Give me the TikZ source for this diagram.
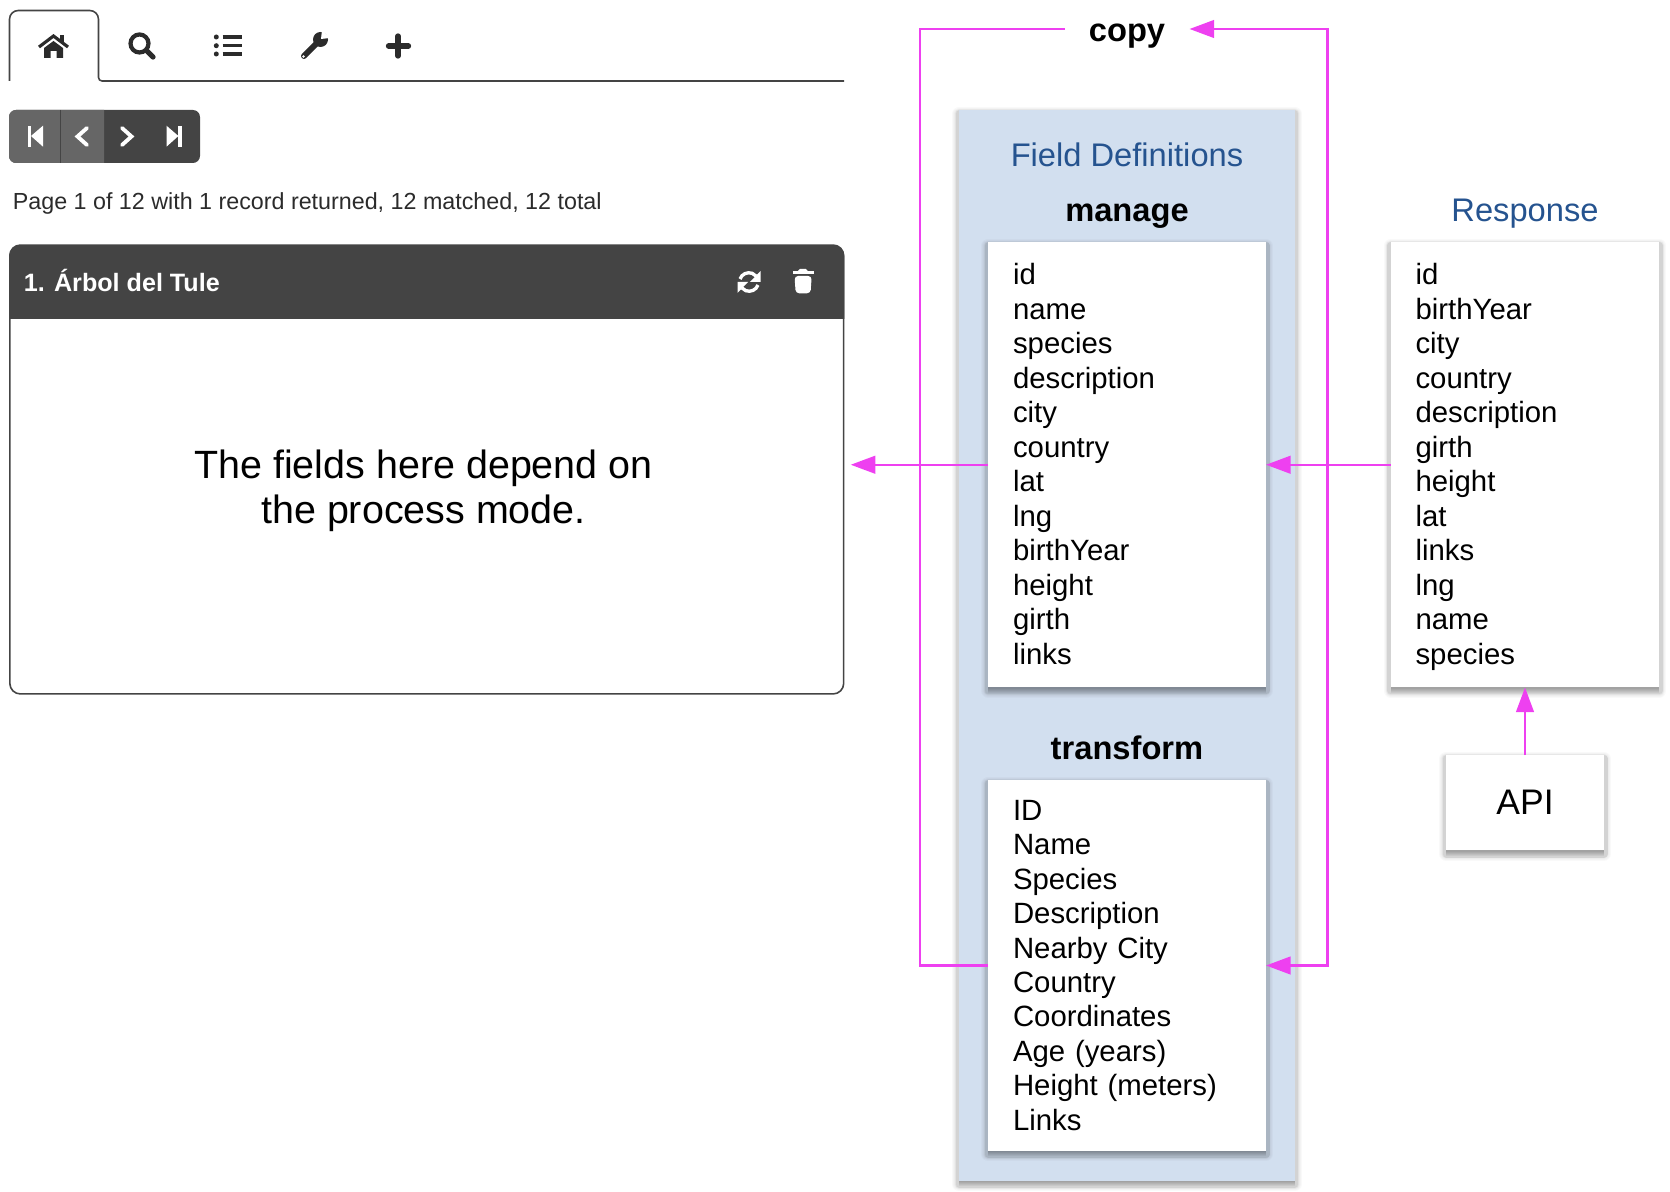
\documentclass[tikz,border=0pt]{standalone}
\usepackage{fontspec}
\setmainfont{Liberation Sans}
\usetikzlibrary{arrows.meta}
\usetikzlibrary{shadows}
\definecolor{pink}{HTML}{EE40F0}
\definecolor{panelblue}{HTML}{D2DFEF}
\definecolor{titleblue}{HTML}{25538F}
\definecolor{darkbar}{HTML}{444444}
\definecolor{lightbar}{HTML}{666666}
\definecolor{icongray}{HTML}{2B2B2B}
\tikzset{>={Triangle[length=14pt,width=10pt]}}
\tikzset{
  ringshadow/.style={general shadow={shadow yshift=-2pt,fill=none,draw=black,opacity=.025,line join=round,line width=#1}},
  dropshadow/.style={general shadow={shadow yshift=#1,fill=black,draw=none,opacity=.05}},
  softshadow/.style={
    ringshadow/.list={7.5pt,6.5pt,5.5pt,5pt,4.5pt,4pt,4pt,4pt},
    dropshadow/.list={-3pt,-2.4pt,-1.8pt,-1.2pt,-.6pt}},
  listbox/.style={fill=white,softshadow,outer sep=0,inner ysep=0,inner xsep=.5cm,align=left,anchor=center,
    font=\fontsize{16.7}{19.62}\selectfont,execute at begin node=\rule{0pt}{17pt},execute at end node=\strut},
  heading/.style={inner sep=0,outer sep=0,font=\fontsize{18.6}{22}\selectfont},
  flow/.style={draw=pink,line width=1.4pt},
  icon/.style={icongray,line width=2.4pt},
  navicon/.style={white,line width=2.2pt}
}
\begin{document}
\begin{tikzpicture}[x=.02cm,y=.02cm]
  \useasboundingbox (0,0) rectangle (1670,-1192);
  % tabs
  \draw[darkbar,line width=.9pt] (9.5,-81) [rounded corners=5] -- (9.5,-10.5) -- (98.5,-10.5) [rounded corners=2] -- (98.5,-81) -- (844,-81);
  % home
  \draw[icon,line width=1.8pt] (39,-47) -- (53.5,-36) -- (68,-47);
  \fill[icongray] (60,-35) rectangle (64,-42);
  \fill[icongray] (44,-48) -- (53.5,-41) -- (63,-48) -- (63,-58) -- (56.5,-58) -- (56.5,-51) -- (50.5,-51) -- (50.5,-58) -- (44,-58) -- cycle;
  % search
  \draw[icon] (139.5,-43.5) circle (9);
  \draw[icon,line width=3pt,line cap=round] (147,-51) -- (153,-57);
  % list
  \foreach \y in {37,45.7,54} {
    \fill[icongray] (216.3,-\y) circle (2.5);
    \draw[icon,line width=2pt] (222.7,-\y) -- (241.7,-\y);
  }
  % wrench
  \draw[icon,line width=3.4pt,line cap=round] (304,-56) -- (318,-42);
  \fill[icongray] (320.5,-39.5) circle (7.5);
  \fill[white] (321,-39) -- (322,-30) -- (330,-38) -- cycle;
  \fill[white] (303.5,-56.5) circle (1.3);
  % plus
  \draw[icon,line width=3pt,line cap=round] (388.5,-46) -- (408.5,-46);
  \draw[icon,line width=3pt,line cap=round] (398,-36) -- (398,-56);
  % nav buttons
  \fill[darkbar,rounded corners=4] (9,-110) rectangle (200,-163);
  \fill[lightbar,rounded corners=4] (40,-110) -- (9,-110) -- (9,-163) -- (40,-163) [sharp corners] -- (104,-163) -- (104,-110) -- cycle;
  \draw[darkbar,line width=.6pt] (60.5,-110) -- (60.5,-163);
  \fill[white] (27.5,-125.7) rectangle (31,-146.7);
  \fill[white] (43,-125.7) -- (31,-136) -- (43,-146.7) -- cycle;
  \draw[navicon,line cap=round] (87,-128) -- (77.5,-136.5) -- (87,-145);
  \draw[navicon,line cap=round] (122,-128) -- (131.5,-136.5) -- (122,-145);
  \fill[white] (166.5,-125.7) -- (178.4,-136) -- (166.5,-146.7) -- cycle;
  \fill[white] (178.2,-125.7) rectangle (181.7,-146.7);
  \node[anchor=west,inner sep=0,text=icongray,font=\fontsize{13.25}{16}\selectfont] (pageinfo) at (12.5,-203) {Page 1 of 12 with 1 record returned, 12 matched, 12 total};
  % record panel
  \node[draw=darkbar,line width=.9pt,fill=white,rounded corners=6,minimum width=16.68cm,minimum height=8.98cm,outer sep=0] (panel) at (426.75,-469.5) {};
  \fill[darkbar,rounded corners=6] (9.2,-280) -- (9.2,-245.5) -- (844.3,-245.5) -- (844.3,-280) [sharp corners] -- (844.3,-319) -- (9.2,-319) -- cycle;
  \node[anchor=west,inner sep=0,text=white,font=\fontsize{14.3}{17}\selectfont\bfseries] (recordtitle) at (23.5,-280) {1. Árbol del Tule};
  \node[align=center,inner sep=0,font=\fontsize{22.45}{25.8}\selectfont] (panelnote) at (423.5,-490.5) {The fields here depend on\\the process mode.};
  % refresh
  \draw[white,line width=1.9pt] (740,-279) arc (160:40:9.5);
  \draw[white,line width=1.9pt] (758,-285) arc (-20:-140:9.5);
  \fill[white] (760.5,-271) -- (760.5,-282) -- (750,-282) -- cycle;
  \fill[white] (737.5,-293) -- (737.5,-282) -- (748,-282) -- cycle;
  % trash
  \fill[white] (792.5,-271.5) rectangle (813.7,-274.5);
  \fill[white,rounded corners=1] (798,-269) rectangle (807.5,-273);
  \fill[white,rounded corners=2] (794.5,-276) -- (811.7,-276) -- (810.5,-293.3) -- (795.7,-293.3) -- cycle;
  % field definitions
  \node[fill=panelblue,softshadow,minimum width=6.72cm,minimum height=21.42cm,outer sep=0] (fields) at (1127,-645.5) {};
  \node[heading,text=titleblue] (fieldstitle) at (1127,-155) {Field Definitions};
  \node[heading,font=\fontsize{18.6}{22}\selectfont\bfseries] (managetitle) at (1127,-216.4) {manage};
  \node[listbox,text width=4.56cm,minimum height=8.91cm] (manage) at (1127,-464.75) {id\\name\\species\\description\\city\\country\\lat\\lng\\birthYear\\height\\girth\\links};
  \node[heading,font=\fontsize{18.6}{22}\selectfont\bfseries] (transformtitle) at (1127,-748) {transform};
  \node[listbox,text width=4.56cm,minimum height=7.42cm] (transform) at (1127,-965.5) {ID\\Name\\Species\\Description\\Nearby City\\Country\\Coordinates\\Age (years)\\Height (meters)\\Links};
  % response and api
  \node[heading,text=titleblue] (responsetitle) at (1525,-213.3) {Response};
  \node[listbox,text width=4.38cm,minimum height=8.91cm] (response) at (1525,-464.75) {id\\birthYear\\city\\country\\description\\girth\\height\\lat\\links\\lng\\name\\species};
  \node[fill=white,softshadow,minimum width=3.16cm,minimum height=1.91cm,outer sep=0,font=\fontsize{20.2}{24}\selectfont] (api) at (1525,-802.75) {API};
  % copy
  \node[minimum width=2.5cm,inner sep=0,outer sep=0,text height=14pt,text depth=0pt,font=\fontsize{18.6}{22}\selectfont\bfseries] (copy) at (1127,-29) {copy};
  \coordinate (copyleft) at (920,-29);
  \coordinate (copyright) at (1327.5,-29);
  % lines
  \draw[flow] (transform.west) -| (copyleft) -- (copy.west);
  \draw[flow,<->] (transform.east) -| (copyright) -- (copy.east);
  \draw[flow,->,shorten >=4pt] (manage.west) -- (manage.west -| panel.east);
  \draw[flow,->] (response.west) -- (manage.east);
  \draw[flow,->] (api.north) -- (response.south);
\end{tikzpicture}
\end{document}
